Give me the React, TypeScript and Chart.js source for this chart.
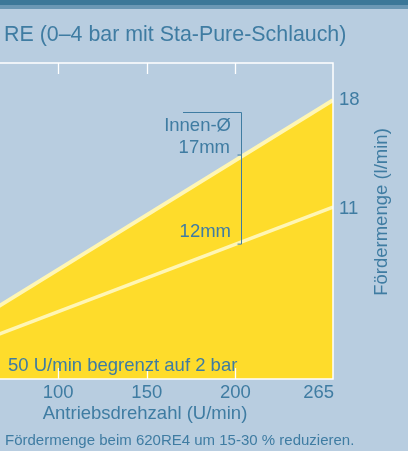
import React, { useEffect, useRef } from 'react';
import { Chart, registerables } from 'chart.js';

Chart.register(...registerables);

// ---- data ----
const rpmPoints = [0, 255];
const flow17mm = [0, 18];
const flow12mm = [0, 11.1];
const xTickValues = [100, 150, 200, 255];
const xTickLabels = ['100', '150', '200', '265'];
const yTickValues = [18, 11];
const yTickLabels = ['18', '11'];
const bracketRpm = 203;

const titleText = 'RE (0–4 bar mit Sta-Pure-Schlauch)';
const xTitle = 'Antriebsdrehzahl (U/min)';
const yTitle = 'Fördermenge (l/min)';
const footerText = 'Fördermenge beim 620RE4 um 15-30 % reduzieren.';
const limitText = '50 U/min begrenzt auf 2 bar';
const innerLabel = 'Innen-Ø';
const label17 = '17mm';
const label12 = '12mm';

// ---- style ----
const OFFSET = 60; // canvas x = page x + OFFSET
const BG = '#b8cde0';
const TEXT = '#3f7ca2';
const YELLOW = '#fedc2b';
const PALE = '#fff6b4';
const FONT = '"Liberation Sans", Arial, Helvetica, sans-serif';

const overlay = {
  id: 'overlay',
  beforeDraw(chart: any) {
    const { ctx, width, height } = chart;
    ctx.save();
    ctx.fillStyle = BG;
    ctx.fillRect(0, 0, width, height);
    ctx.fillStyle = '#3b7798';
    ctx.fillRect(0, 0, width, 5);
    ctx.fillStyle = '#6a97b4';
    ctx.fillRect(0, 5, width, 4);
    ctx.restore();
  },
  afterDatasetsDraw(chart: any) {
    const { ctx, chartArea: a } = chart;
    const xs = chart.scales.x;
    const ys = chart.scales.y;
    const P = (x: number) => x + OFFSET;
    ctx.save();
    // white frame
    ctx.strokeStyle = '#ffffff';
    ctx.lineWidth = 1.5;
    ctx.strokeRect(a.left, a.top, a.right - a.left, a.bottom - a.top);
    // inner ticks
    ctx.lineWidth = 1.3;
    xTickValues.slice(0, 3).forEach((v) => {
      const x = Math.round(xs.getPixelForValue(v)) + 0.5;
      ctx.beginPath();
      ctx.moveTo(x, a.top);
      ctx.lineTo(x, a.top + 11);
      ctx.moveTo(x, a.bottom);
      ctx.lineTo(x, a.bottom - 11);
      ctx.stroke();
    });

    ctx.fillStyle = TEXT;
    ctx.textBaseline = 'middle';

    // title
    ctx.font = `21.4px ${FONT}`;
    ctx.textAlign = 'left';
    ctx.fillText(titleText, P(4), 35);

    // x tick labels
    ctx.font = `18.5px ${FONT}`;
    xTickValues.forEach((v, i) => {
      if (i === xTickValues.length - 1) {
        ctx.textAlign = 'right';
        ctx.fillText(xTickLabels[i], a.right + 1, 393);
      } else {
        ctx.textAlign = 'center';
        ctx.fillText(xTickLabels[i], xs.getPixelForValue(v), 393);
      }
    });
    // x title
    ctx.textAlign = 'center';
    ctx.fillText(xTitle, (a.left + a.right) / 2, 414);

    // y tick labels
    ctx.textAlign = 'left';
    yTickValues.forEach((v, i) => {
      ctx.fillText(yTickLabels[i], a.right + 6, ys.getPixelForValue(v));
    });

    // y title
    ctx.save();
    ctx.translate(P(382), 212);
    ctx.rotate(-Math.PI / 2);
    ctx.textAlign = 'center';
    ctx.fillText(yTitle, 0, 0);
    ctx.restore();

    // limit text
    ctx.textAlign = 'left';
    ctx.fillText(limitText, P(8), 366);

    // bracket annotation
    const bx = Math.round(xs.getPixelForValue(bracketRpm)) + 0.5;
    const frac = bracketRpm / rpmPoints[1];
    const y17 = ys.getPixelForValue(flow17mm[1] * frac);
    const y12 = ys.getPixelForValue(flow12mm[1] * frac);
    const topY = 112.5;
    ctx.strokeStyle = TEXT;
    ctx.lineWidth = 1;
    ctx.beginPath();
    ctx.moveTo(P(183), topY);
    ctx.lineTo(bx, topY);
    ctx.lineTo(bx, y12 + 2);
    ctx.lineTo(bx - 4, y12 + 2);
    ctx.moveTo(bx, y17 - 2);
    ctx.lineTo(bx - 4, y17 - 2);
    ctx.stroke();

    ctx.textAlign = 'right';
    ctx.fillText(innerLabel, P(231), 126);
    ctx.fillText(label17, P(230), 148);
    ctx.fillText(label12, P(231), 232);

    // footer
    ctx.font = `15px ${FONT}`;
    ctx.textAlign = 'left';
    ctx.fillText(footerText, P(5), 441);
    ctx.restore();
  },
};

export default function App() {
  const ref = useRef<HTMLCanvasElement | null>(null);
  useEffect(() => {
    document.body.style.margin = '0';
    const canvas = ref.current;
    if (!canvas) return;
    const chart = new Chart(canvas, {
      type: 'line',
      data: {
        datasets: [
          {
            label: label12,
            data: rpmPoints.map((x, i) => ({ x, y: flow12mm[i] })),
            borderColor: PALE,
            borderWidth: 3.5,
            pointRadius: 0,
            fill: false,
            order: 0,
          },
          {
            label: label17,
            data: rpmPoints.map((x, i) => ({ x, y: flow17mm[i] })),
            borderColor: PALE,
            backgroundColor: YELLOW,
            borderWidth: 4,
            pointRadius: 0,
            fill: 'origin',
            order: 1,
          },
        ],
      },
      options: {
        animation: false,
        responsive: false,
        events: [],
        layout: { padding: { left: 17, right: 75, top: 63, bottom: 72 } },
        plugins: {
          legend: { display: false },
          title: { display: false },
          tooltip: { enabled: false },
        },
        scales: {
          x: { type: 'linear', min: 43, max: 255, display: false },
          y: { type: 'linear', min: 0, max: 20.4, display: false },
        },
      },
      plugins: [overlay],
    });
    return () => chart.destroy();
  }, []);

  return (
    <div
      style={{
        position: 'relative',
        width: 408,
        height: 451,
        overflow: 'hidden',
        background: BG,
      }}
    >
      <canvas
        ref={ref}
        width={468}
        height={451}
        style={{ position: 'absolute', left: -OFFSET, top: 0, width: 468, height: 451 }}
      />
    </div>
  );
}
